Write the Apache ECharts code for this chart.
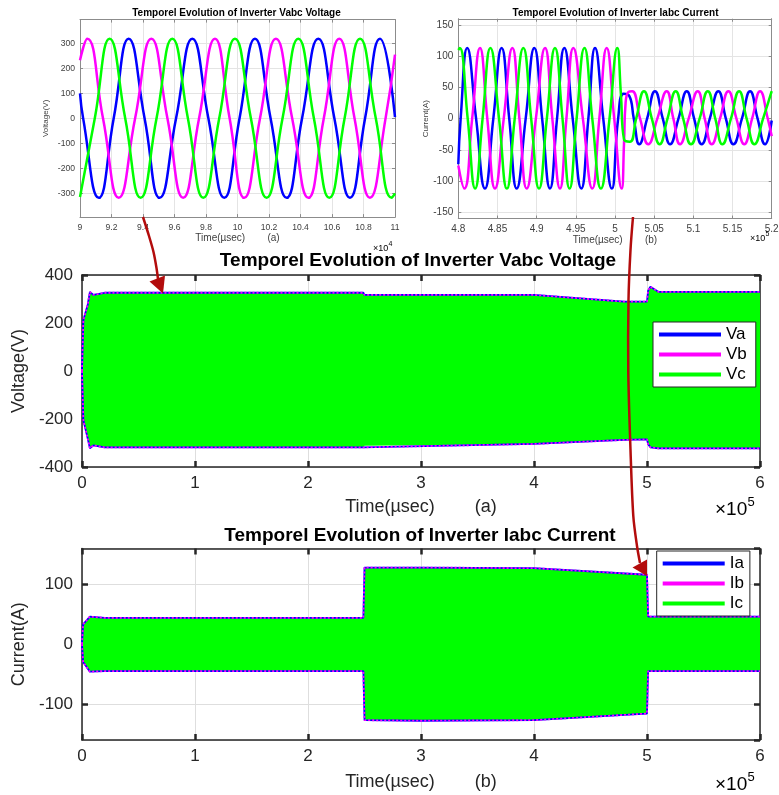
<!DOCTYPE html>
<html>
<head>
<meta charset="utf-8">
<title>Temporel Evolution of Inverter Vabc / Iabc</title>
<script src="https://cdn.jsdelivr.net/npm/echarts@6/dist/echarts.min.js"></script>
<style>
  html, body { margin: 0; padding: 0; background: #fff; }
  #chart { width: 779px; height: 795px; }
</style>
</head>
<body>
<div id="chart"></div>
<script>
// zoom (a): voltage around 1e5 us, time in units of 1e4 us
const vZoomA = [[9.0,100],[9.02,0],[9.119,-318],[9.214,0],[9.309,318],[9.41,0],[9.506,-318],[9.61,0],[9.713,318],[9.815,0],[9.916,-318],[10.013,0],[10.111,318],[10.21,0],[10.312,-318],[10.41,0],[10.513,318],[10.615,0],[10.714,-318],[10.81,0],[10.905,318],[11.0,5]];
const vZoomB = [[9.0,232],[9.046,318],[9.146,0],[9.246,-318],[9.35,0],[9.453,318],[9.555,0],[9.655,-318],[9.756,0],[9.857,318],[9.95,0],[10.043,-318],[10.143,0],[10.244,318],[10.347,0],[10.45,-318],[10.548,0],[10.646,318],[10.743,0],[10.841,-318],[10.94,0],[11.0,255]];
const vZoomC = [[9.0,-315],[9.094,0],[9.188,318],[9.287,0],[9.385,-318],[9.486,0],[9.586,318],[9.685,0],[9.783,-318],[9.884,0],[9.984,318],[10.085,0],[10.185,-318],[10.286,0],[10.386,318],[10.485,0],[10.583,-318],[10.68,0],[10.778,318],[10.878,0],[10.979,-318],[11.0,-300]];

// zoom (b): current around 5e5 us, time in units of 1e5 us
const iZoomA = [[4.8,-73],[4.803,0],[4.8114,113],[4.8227,0],[4.834,-112],[4.8447,0],[4.8553,113],[4.865,0],[4.8745,-112],[4.886,0],[4.897,113],[4.907,0],[4.917,-112],[4.926,0],[4.9353,113],[4.946,0],[4.957,-112],[4.966,0],[4.9745,113],[4.985,0],[4.996,-112],[5.004,0],[5.011,40],[5.018,37],[5.024,0],[5.031,-41],[5.041,0],[5.051,44],[5.061,0],[5.0703,-41],[5.081,0],[5.0916,44],[5.101,0],[5.1107,-41],[5.121,0],[5.1319,44],[5.1415,0],[5.1511,-41],[5.162,0],[5.1724,44],[5.182,0],[5.1915,-41],[5.2,-3]];
const iZoomB = [[4.8,-75],[4.8077,-112],[4.8177,0],[4.8277,113],[4.837,0],[4.8468,-112],[4.858,0],[4.869,113],[4.878,0],[4.8873,-112],[4.899,0],[4.9107,113],[4.92,0],[4.9298,-112],[4.938,0],[4.9468,113],[4.959,0],[4.971,-112],[4.98,0],[4.9894,113],[4.999,0],[5.0085,-112],[5.0115,-40],[5.0135,25],[5.0175,43],[5.022,44],[5.032,0],[5.0425,-41],[5.054,0],[5.066,44],[5.0745,0],[5.083,-41],[5.094,0],[5.1056,44],[5.1145,0],[5.1235,-41],[5.134,0],[5.1447,44],[5.155,0],[5.165,-41],[5.175,0],[5.1852,44],[5.195,0],[5.2,-28]];
const iZoomC = [[4.8,110],[4.802,113],[4.812,0],[4.8215,-112],[4.831,0],[4.841,113],[4.852,0],[4.862,-112],[4.872,0],[4.883,113],[4.893,0],[4.903,-112],[4.913,0],[4.9234,113],[4.933,0],[4.942,-112],[4.951,0],[4.961,113],[4.971,0],[4.982,-112],[4.993,0],[5.003,113],[5.0075,40],[5.0115,-33],[5.019,-37],[5.027,0],[5.037,44],[5.047,0],[5.057,-41],[5.067,0],[5.0775,44],[5.087,0],[5.097,-41],[5.108,0],[5.1184,44],[5.128,0],[5.137,-41],[5.148,0],[5.1584,44],[5.168,0],[5.1779,-41],[5.189,0],[5.2,44]];

// full runs: envelope of the three phases, time in units of 1e5 us
const vEnvT   = [0, 0.012, 0.05, 0.07, 0.1, 0.2, 2.49, 2.5, 4.0, 4.8, 5.0, 5.01, 5.03, 5.1, 6.0];
const vEnvUp  = [0, 212, 275, 330, 317, 326, 326, 317, 317, 289, 289, 335, 351, 330, 330];
const vEnvLow = [0, -204, -280, -322, -310, -318, -318, -311, -304, -287, -285, -305, -318, -322, -322];

const iEnvT   = [0, 0.01, 0.07, 0.2, 2.49, 2.5, 3.0, 4.0, 5.0, 5.01, 6.0];
const iEnvUp  = [0, 33, 46, 44, 44, 128, 128, 127, 116, 46, 46];
const iEnvLow = [0, -30, -46, -45, -45, -127, -128, -127, -116, -45, -45];

const BLUE = '#0000ff', MAGENTA = '#ff00ff', GREEN = '#00ff00', RED = '#b30c0c';
const FONT = '"Liberation Sans", Arial, Helvetica, sans-serif';

const big = { line: '#262626', lineW: 1.5, tickW: 2.5, tickLen: 6, label: 17, name: 18, text: '#262626', grid: '#dedede', xMargin: 8, yMargin: 9 };
const smallA = { line: '#8c8c8c', lineW: 1, tickW: 1, tickLen: 3, label: 8.6, name: 10, yName: 8, text: '#404040', grid: '#e4e4e4', xMargin: 6, yMargin: 5 };
const smallB = Object.assign({}, smallA, { label: 10 });

function xPair(gi, o) {
  const s = o.s;
  const base = {
    gridIndex: gi, type: 'value', min: o.min, max: o.max, interval: o.interval,
    axisLine: { onZero: false, lineStyle: { color: s.line, width: s.lineW } },
    axisTick: { inside: true, length: s.tickLen, lineStyle: { color: s.line, width: s.tickW } }
  };
  return [
    Object.assign({}, base, {
      position: 'bottom',
      axisLabel: { fontSize: s.label, color: s.text, fontFamily: FONT, margin: s.xMargin },
      splitLine: { show: true, lineStyle: { color: s.grid, width: 1 } },
      name: o.name, nameLocation: 'middle', nameGap: o.nameGap,
      nameTextStyle: { fontSize: s.name, color: s.text, fontFamily: FONT }
    }),
    Object.assign({}, base, { position: 'top', axisLabel: { show: false }, splitLine: { show: false } })
  ];
}

function yPair(gi, o) {
  const s = o.s;
  const base = {
    gridIndex: gi, type: 'value', min: o.min, max: o.max,
    axisLine: { onZero: false, lineStyle: { color: s.line, width: s.lineW } },
    axisTick: { inside: true, length: s.tickLen, lineStyle: { color: s.line, width: s.tickW } }
  };
  if (o.interval) base.interval = o.interval; else base.splitNumber = o.splitNumber;
  return [
    Object.assign({}, base, {
      position: 'left',
      axisLabel: { fontSize: s.label, color: s.text, fontFamily: FONT, margin: s.yMargin,
        showMinLabel: !o.hideEnds, showMaxLabel: !o.hideEnds },
      splitLine: { show: true, lineStyle: { color: s.grid, width: 1 } },
      name: o.name, nameLocation: 'middle', nameGap: o.nameGap,
      nameTextStyle: { fontSize: s.yName || s.name, color: s.text, fontFamily: FONT }
    }),
    Object.assign({}, base, { position: 'right', axisLabel: { show: false }, splitLine: { show: false } })
  ];
}

function wave(name, gi, data, color) {
  return {
    type: 'line', name: name, xAxisIndex: gi * 2, yAxisIndex: gi * 2, data: data,
    smooth: true, showSymbol: false, silent: true,
    lineStyle: { width: 2.5, color: color }, itemStyle: { color: color }
  };
}

// upper and lower envelope as one broken line
function edgeData(t, up, low) {
  const d = t.map((x, i) => [x, up[i]]);
  d.push([t[t.length - 1], '-']);
  return d.concat(t.map((x, i) => [x, low[i]]));
}

function edge(name, gi, t, up, low, color, dotted) {
  return {
    type: 'line', name: name, xAxisIndex: gi * 2, yAxisIndex: gi * 2,
    data: edgeData(t, up, low), showSymbol: false, silent: true, connectNulls: false,
    lineStyle: { width: 1.8, color: color, type: dotted ? [2, 2] : 'solid' },
    itemStyle: { color: color }
  };
}

function band(name, gi, t, up, low) {
  return {
    type: 'custom', name: name, xAxisIndex: gi * 2, yAxisIndex: gi * 2,
    data: [[t[0], 0]], silent: true, itemStyle: { color: GREEN },
    renderItem: function (params, api) {
      const pts = [];
      for (let i = 0; i < t.length; i++) pts.push(api.coord([t[i], up[i]]));
      for (let i = t.length - 1; i >= 0; i--) pts.push(api.coord([t[i], low[i]]));
      return { type: 'polygon', shape: { points: pts }, style: { fill: GREEN, stroke: null } };
    }
  };
}

function txt(x, y, text, size, bold, align) {
  return {
    type: 'text', x: x, y: y, z: 50,
    style: { text: text, fontSize: size, fontWeight: bold ? 'bold' : 'normal', fontFamily: FONT,
      fill: '#000', align: align || 'center', verticalAlign: 'middle' }
  };
}

function legendBox(names, left, top, padRight) {
  return {
    data: names.map(n => ({ name: n })), orient: 'vertical', left: left, top: top,
    icon: 'rect', itemWidth: 62, itemHeight: 4, itemGap: 1, itemTextGap: 5,
    padding: [3, padRight, 3, 6], backgroundColor: '#fff', borderColor: '#262626', borderWidth: 1,
    selectedMode: false, textStyle: { fontSize: 17, lineHeight: 19, color: '#000', fontFamily: FONT }
  };
}

const TNAME = 'Time(\u00b5sec)        ';

const xAxes = [].concat(
  xPair(0, { s: smallA, min: 9, max: 11, interval: 0.2, name: TNAME + '(a)', nameGap: 16 }),
  xPair(1, { s: smallB, min: 4.8, max: 5.2, interval: 0.05, name: TNAME + '(b)', nameGap: 14.5 }),
  xPair(2, { s: big, min: 0, max: 6, interval: 1, name: TNAME + '(a)', nameGap: 31 }),
  xPair(3, { s: big, min: 0, max: 6, interval: 1, name: TNAME + '(b)', nameGap: 33 })
);
const yAxes = [].concat(
  yPair(0, { s: smallA, min: -395, max: 395, splitNumber: 8, hideEnds: true, name: 'Voltage(V)', nameGap: 30 }),
  yPair(1, { s: smallB, min: -160, max: 160, splitNumber: 6, hideEnds: true, name: 'Current(A)', nameGap: 28 }),
  yPair(2, { s: big, min: -400, max: 400, interval: 200, name: 'Voltage(V)', nameGap: 48 }),
  yPair(3, { s: big, min: -160, max: 160, splitNumber: 3, hideEnds: true, name: 'Current(A)', nameGap: 48 })
);

const option = {
  backgroundColor: '#fff',
  animation: false,
  grid: [
    { left: 80, top: 19.6, width: 315, height: 197.5, outerBoundsMode: 'none' },
    { left: 458.3, top: 18.75, width: 313.4, height: 199.8, outerBoundsMode: 'none' },
    { left: 82, top: 275, width: 678, height: 192, outerBoundsMode: 'none' },
    { left: 82, top: 548.4, width: 678, height: 191.5, outerBoundsMode: 'none' }
  ],
  xAxis: xAxes,
  yAxis: yAxes,
  legend: [
    legendBox(['Va', 'Vb', 'Vc'], 653, 322, 9),
    legendBox(['Ia', 'Ib', 'Ic'], 656.7, 551, 6)
  ],
  series: [
    wave('za', 0, vZoomA, BLUE), wave('zb', 0, vZoomB, MAGENTA), wave('zc', 0, vZoomC, GREEN),
    wave('ya', 1, iZoomA, BLUE), wave('yb', 1, iZoomB, MAGENTA), wave('yc', 1, iZoomC, GREEN),
    edge('Va', 2, vEnvT, vEnvUp, vEnvLow, BLUE, false),
    edge('Vb', 2, vEnvT, vEnvUp, vEnvLow, MAGENTA, true),
    band('Vc', 2, vEnvT, vEnvUp, vEnvLow),
    edge('Ia', 3, iEnvT, iEnvUp, iEnvLow, BLUE, false),
    edge('Ib', 3, iEnvT, iEnvUp, iEnvLow, MAGENTA, true),
    band('Ic', 3, iEnvT, iEnvUp, iEnvLow)
  ],
  graphic: { elements: [
    txt(236.5, 13, 'Temporel Evolution of Inverter Vabc Voltage', 10, true),
    txt(615.5, 13, 'Temporel Evolution of Inverter Iabc Current', 10, true),
    txt(418, 261, 'Temporel Evolution of Inverter Vabc Voltage', 19, true),
    txt(420, 535.5, 'Temporel Evolution of Inverter Iabc Current', 19, true),
    // axis exponents
    txt(373, 248.5, '\u00d710', 9, false, 'left'), txt(388.5, 244.5, '4', 7, false, 'left'),
    txt(750, 238.5, '\u00d710', 9, false, 'left'), txt(765.5, 234.5, '5', 7, false, 'left'),
    txt(715, 510, '\u00d710', 19, false, 'left'), txt(747.5, 502.5, '5', 13, false, 'left'),
    txt(715, 785, '\u00d710', 19, false, 'left'), txt(747.5, 777.5, '5', 13, false, 'left'),
    // arrows linking the zooms to the full runs
    { type: 'polyline', z: 100, shape: { points: [[143, 217], [149, 236], [153.5, 252], [156.5, 268], [158, 279]], smooth: 0.3 },
      style: { stroke: RED, lineWidth: 2.5, fill: null } },
    { type: 'polygon', z: 100, shape: { points: [[149.5, 281.5], [165, 275.5], [163, 293.5]] }, style: { fill: RED } },
    { type: 'polyline', z: 100, shape: { points: [[633, 217], [630.5, 250], [628.5, 300], [628.3, 373], [630.5, 450], [633.3, 516], [637, 546], [640, 563]], smooth: 0.3 },
      style: { stroke: RED, lineWidth: 2.5, fill: null } },
    { type: 'polygon', z: 100, shape: { points: [[632.5, 567.5], [647, 559.5], [647, 576]] }, style: { fill: RED } }
  ] }
};

const chart = echarts.init(document.getElementById('chart'));
chart.setOption(option);
window.addEventListener('resize', () => chart.resize());
</script>
</body>
</html>
